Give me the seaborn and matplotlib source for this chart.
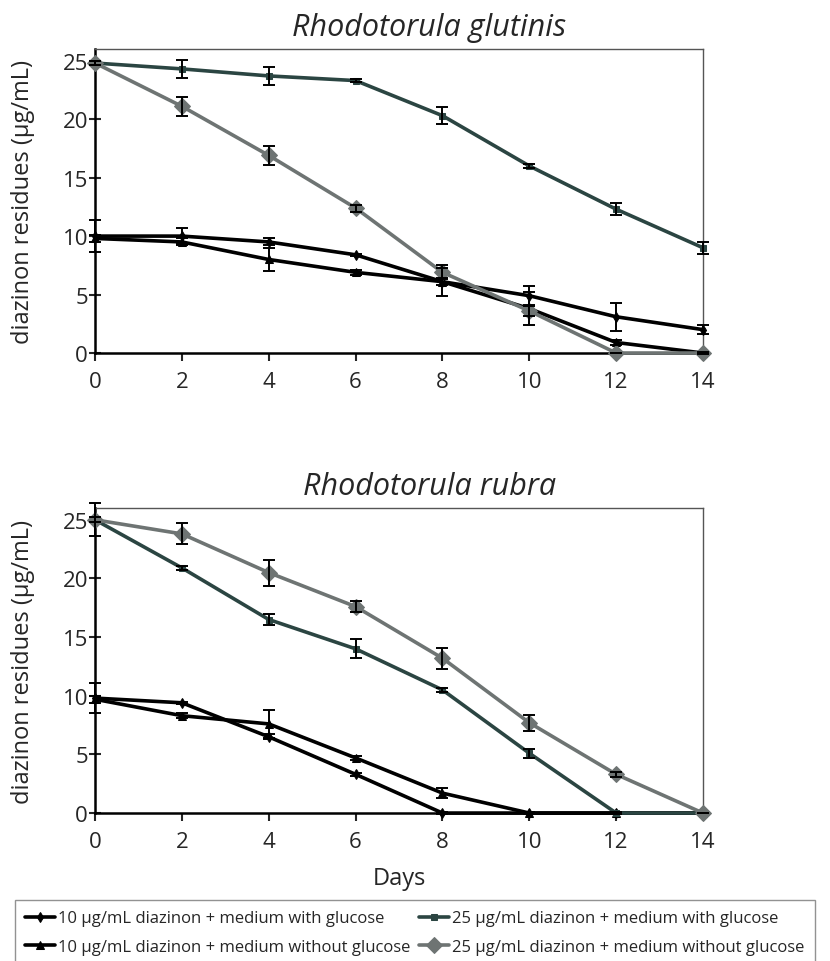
import numpy as np
import pandas as pd
import matplotlib
matplotlib.use("Agg")
import matplotlib.pyplot as plt
import seaborn as sns

# sampling days
days = [0, 2, 4, 6, 8, 10, 12, 14]

# Rhodotorula glutinis - residues (ug/mL) and error bars
glut_10_glc = [10.0, 10.0, 9.5, 8.4, 6.1, 4.9, 3.1, 2.0]
glut_10_noglc = [9.8, 9.5, 8.0, 6.9, 6.1, 3.8, 0.9, 0.0]
glut_25_glc = [24.8, 24.3, 23.7, 23.3, 20.3, 16.0, 12.3, 9.0]
glut_25_noglc = [24.8, 21.1, 16.9, 12.4, 6.9, 3.6, 0.0, 0.0]
glut_10_glc_err = [1.4, 0.7, 0.3, 0.1, 1.2, 0.8, 1.2, 0.4]
glut_10_noglc_err = [0.3, 0.3, 1.0, 0.2, 0.3, 1.4, 0.2, 0.1]
glut_25_glc_err = [0.2, 0.8, 0.8, 0.1, 0.7, 0.2, 0.5, 0.5]
glut_25_noglc_err = [0.2, 0.8, 0.8, 0.3, 0.6, 0.4, 0.0, 0.0]

# Rhodotorula rubra
rub_10_glc = [9.8, 9.4, 6.5, 3.3, 0.0, 0.0, 0.0, 0.0]
rub_10_noglc = [9.7, 8.3, 7.6, 4.7, 1.7, 0.0, 0.0, 0.0]
rub_25_glc = [25.0, 20.9, 16.5, 14.0, 10.5, 5.1, 0.0, 0.0]
rub_25_noglc = [25.0, 23.8, 20.5, 17.6, 13.2, 7.7, 3.3, 0.0]
rub_10_glc_err = [1.3, 0.1, 0.2, 0.1, 0.1, 0.0, 0.0, 0.0]
rub_10_noglc_err = [0.3, 0.2, 1.2, 0.2, 0.4, 0.1, 0.0, 0.0]
rub_25_glc_err = [0.2, 0.2, 0.5, 0.8, 0.2, 0.4, 0.1, 0.0]
rub_25_noglc_err = [1.4, 0.9, 1.1, 0.5, 0.9, 0.7, 0.2, 0.0]

labels = [
    "10 µg/mL diazinon + medium with glucose",
    "10 µg/mL diazinon + medium without glucose",
    "25 µg/mL diazinon + medium with glucose",
    "25 µg/mL diazinon + medium without glucose",
]
colors = ["#000000", "#000000", "#2b4542", "#6e7473"]
markers = ["d", "^", "s", "D"]
msizes = [5, 6, 5, 8]

panels = [
    ("Rhodotorula glutinis",
     [glut_10_glc, glut_10_noglc, glut_25_glc, glut_25_noglc],
     [glut_10_glc_err, glut_10_noglc_err, glut_25_glc_err, glut_25_noglc_err]),
    ("Rhodotorula rubra",
     [rub_10_glc, rub_10_noglc, rub_25_glc, rub_25_noglc],
     [rub_10_glc_err, rub_10_noglc_err, rub_25_glc_err, rub_25_noglc_err]),
]

sns.set_style("ticks")
plt.rcParams["font.family"] = ["Open Sans", "DejaVu Sans"]

fig = plt.figure(figsize=(8.3, 9.62), dpi=100)
axes = [
    fig.add_axes([0.1145, 0.632, 0.7325, 0.316]),
    fig.add_axes([0.1145, 0.1538, 0.7325, 0.317]),
]

for ax, (title, series, errs) in zip(axes, panels):
    for vals, err, lab, col, mk, ms in zip(series, errs, labels, colors, markers, msizes):
        df = pd.DataFrame({"Days": days, "residue": vals})
        sns.lineplot(data=df, x="Days", y="residue", ax=ax, color=col, marker=mk,
                     markersize=ms, markeredgecolor=col, linewidth=2.6, label=lab,
                     clip_on=False, zorder=3)
        ax.errorbar(days, vals, yerr=err, fmt="none", ecolor="black", elinewidth=1.4,
                    capsize=4, capthick=1.4, clip_on=False, zorder=4)
    ax.set_xlim(0, 14)
    ax.set_ylim(0, 26)
    ax.set_xticks(range(0, 15, 2))
    ax.set_yticks(range(0, 26, 5))
    ax.tick_params(axis="x", direction="out", length=6, width=1.5, labelsize=16, pad=7)
    ax.tick_params(axis="y", direction="inout", length=8, width=1.5, labelsize=16, pad=1)
    for side in ["left", "bottom"]:
        ax.spines[side].set_linewidth(1.8)
        ax.spines[side].set_color("black")
    for side in ["top", "right"]:
        ax.spines[side].set_visible(True)
        ax.spines[side].set_linewidth(1.0)
        ax.spines[side].set_color("#555555")
    ax.set_ylabel("diazinon residues (µg/mL)", fontsize=17, labelpad=20)
    ax.set_xlabel("")
    ax.set_title(title, fontsize=22, style="italic", pad=10, x=0.55)

axes[1].set_xlabel("Days", fontsize=17, labelpad=10)

handles, labs = axes[1].get_legend_handles_labels()
for ax in axes:
    ax.get_legend().remove()
leg = fig.legend(handles, labs,
                 loc="upper left", bbox_to_anchor=(0.008, 1 - 893 / 962), ncol=2,
                 frameon=True, fancybox=False, edgecolor="#777777",
                 prop={"size": 12},
                 handlelength=1.8, handletextpad=0.2, columnspacing=0.5,
                 borderpad=0.6, labelspacing=0.75)

fig.savefig("out.png", dpi=100)
